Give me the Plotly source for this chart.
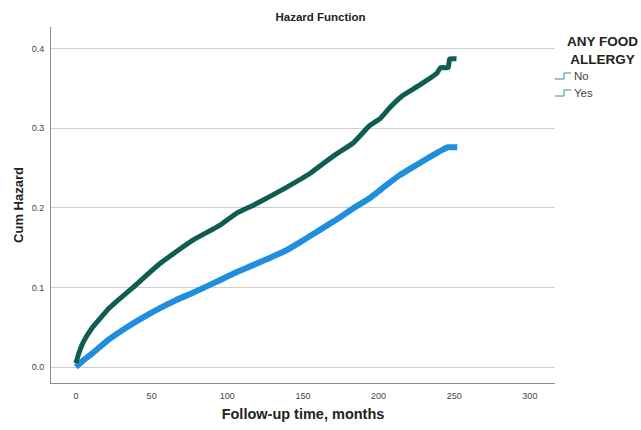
import plotly.graph_objects as go

# Cumulative hazard estimates by follow-up month
months_no = [0, 4, 11, 22, 33.7, 45, 55.5, 66, 77, 95, 106, 117, 128, 139.5, 150,
             161, 172, 183, 194, 205.5, 214, 222.7, 234, 242.5, 246, 252]
cumhaz_no = [0.0, 0.007, 0.0175, 0.035, 0.05, 0.063, 0.074, 0.084, 0.093, 0.109, 0.119,
             0.128, 0.137, 0.147, 0.159, 0.172, 0.185, 0.199, 0.212, 0.229, 0.241, 0.251,
             0.264, 0.273, 0.276, 0.276]

months_yes = [0, 2, 5, 11, 22.5, 37.7, 55.5, 77, 95, 106, 117, 128, 139.5, 154.6, 163,
              172.5, 183, 194, 201, 207.5, 216, 227, 238.5, 241, 246, 247, 251.5]
cumhaz_yes = [0.005, 0.018, 0.032, 0.05, 0.075, 0.1, 0.13, 0.159, 0.178, 0.193, 0.203,
              0.214, 0.226, 0.243, 0.255, 0.268, 0.281, 0.303, 0.312, 0.326, 0.341, 0.354,
              0.369, 0.376, 0.376, 0.387, 0.387]

groups = ["No", "Yes"]
colors = {"No": "#1f8edd", "Yes": "#0e5c52"}

x_ticks = [0, 50, 100, 150, 200, 250, 300]
y_ticks = [0.0, 0.1, 0.2, 0.3, 0.4]

fig = go.Figure()
fig.add_trace(go.Scatter(x=months_no, y=cumhaz_no, mode="lines", name="No",
                         line=dict(color=colors["No"], width=6, shape="spline", smoothing=0.4),
                         showlegend=False))
fig.add_trace(go.Scatter(x=months_yes, y=cumhaz_yes, mode="lines", name="Yes",
                         line=dict(color=colors["Yes"], width=5, shape="spline", smoothing=0.4),
                         showlegend=False))

font = "Liberation Sans, Arial, sans-serif"
L, R, T, B, W, H = 51, 86, 27, 47, 641, 430
pw, ph = W - L - R, H - T - B

def px(x):
    return (x - L) / pw

def py(y):
    return (H - B - y) / ph

# Legend drawn by hand with step-shaped keys
fig.add_annotation(x=px(602), y=py(50), xref="paper", yref="paper",
                   text="<b>ANY FOOD<br>ALLERGY</b>", showarrow=False,
                   font=dict(family=font, size=13.5, color="#222"), align="center",
                   xanchor="center", yanchor="middle")
for i, g in enumerate(groups):
    yc = 76 + 17 * i
    x0, x1, x2 = 555, 564, 571
    ylo, yhi = yc + 3, yc - 3
    path = f"M {px(x0)} {py(ylo)} L {px(x1)} {py(ylo)} L {px(x1)} {py(yhi)} L {px(x2)} {py(yhi)}"
    fig.add_shape(type="path", path=path, xref="paper", yref="paper",
                  line=dict(color="#2e8aa0", width=1))
    fig.add_annotation(x=px(572), y=py(yc), xref="paper", yref="paper", text=g,
                       showarrow=False, xanchor="left", yanchor="middle",
                       font=dict(family=font, size=11.5, color="#444"))

fig.update_layout(
    width=W, height=H,
    margin=dict(l=L, r=R, t=T, b=B, autoexpand=False),
    paper_bgcolor="white", plot_bgcolor="white",
    title=dict(text="<b>Hazard Function</b>", x=0.5, xanchor="center", y=1 - 17 / H,
               yanchor="middle", font=dict(family=font, size=11.5, color="#222")),
    xaxis=dict(range=[-16.5, 316.6], tickvals=x_ticks, showgrid=False, zeroline=False,
               showline=True, linecolor="#8c8c8c", linewidth=1, ticks="",
               ticklabelstandoff=4, automargin=False,
               tickfont=dict(family=font, size=9, color="#444"),
               title=dict(text="<b>Follow-up time, months</b>", standoff=9,
                          font=dict(family=font, size=14.5, color="#222"))),
    yaxis=dict(range=[-0.02, 0.427], tickvals=y_ticks, tickformat=".1f",
               showgrid=True, gridcolor="#cfcfcf", gridwidth=1, zeroline=False,
               showline=True, linecolor="#8c8c8c", linewidth=1, ticks="",
               ticklabelstandoff=4, automargin=False,
               tickfont=dict(family=font, size=9, color="#444"),
               title=dict(text="<b>Cum Hazard</b>", standoff=5,
                          font=dict(family=font, size=13, color="#222"))),
)

fig.write_html("out.html")
